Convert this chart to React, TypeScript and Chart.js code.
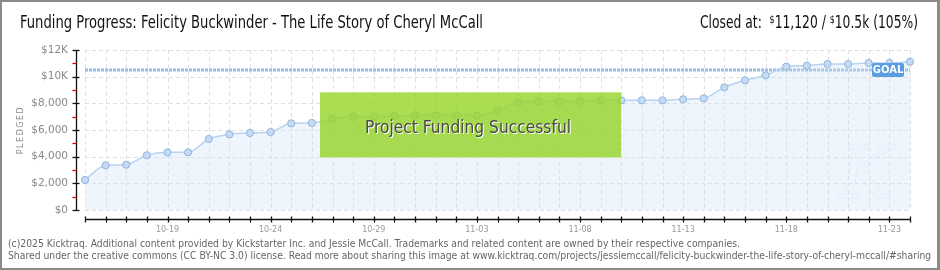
import { useEffect, useRef } from 'react';
import { Chart, registerables } from 'chart.js';

Chart.register(...registerables);

const DATES = [
  '10-15', '10-16', '10-17', '10-18', '10-19', '10-20', '10-21', '10-22', '10-23', '10-24',
  '10-25', '10-26', '10-27', '10-28', '10-29', '10-30', '10-31', '11-01', '11-02', '11-03',
  '11-04', '11-05', '11-06', '11-07', '11-08', '11-09', '11-10', '11-11', '11-12', '11-13',
  '11-14', '11-15', '11-16', '11-17', '11-18', '11-19', '11-20', '11-21', '11-22', '11-23',
  '11-24',
];

const PLEDGED = [
  2250, 3350, 3400, 4100, 4325, 4325, 5325, 5675, 5775, 5850,
  6500, 6525, 6825, 7000, 7000, 7050, 7100, 7100, 7100, 7100,
  7450, 8075, 8150, 8150, 8175, 8225, 8225, 8225, 8225, 8300,
  8375, 9200, 9725, 10100, 10750, 10825, 10950, 10950, 11025, 11025,
  11120,
];

const GOAL = 10500;
const Y_TICKS = [0, 1000, 2000, 3000, 4000, 5000, 6000, 7000, 8000, 9000, 10000, 11000, 12000];
const Y_LABELS = ['$0', '', '$2,000', '', '$4,000', '', '$6,000', '', '$8,000', '', '$10K', '', '$12K'];
const X_LABELED = ['10-19', '10-24', '10-29', '11-03', '11-08', '11-13', '11-18', '11-23'];

const TITLE = 'Funding Progress: Felicity Buckwinder - The Life Story of Cheryl McCall';
const CLOSED_PARTS = ['Closed at:  ', '$', '11,120 / ', '$', '10.5k (105%)'];
const BANNER = 'Project Funding Successful';
const FOOTER1 = '(c)2025 Kicktraq. Additional content provided by Kickstarter Inc. and Jessie McCall. Trademarks and related content are owned by their respective companies.';
const FOOTER2 = 'Shared under the creative commons (CC BY-NC 3.0) license. Read more about sharing this image at www.kicktraq.com/projects/jessiemccall/felicity-buckwinder-the-life-story-of-cheryl-mccall/#sharing';
const AXIS_TITLE = 'PLEDGED';

const COND = '"DejaVu Sans Condensed", "DejaVu Sans", sans-serif';

function fitText(ctx: CanvasRenderingContext2D, text: string, x: number, y: number, font: string, width: number, color: string) {
  ctx.save();
  ctx.font = font;
  ctx.fillStyle = color;
  ctx.textBaseline = 'alphabetic';
  ctx.textAlign = 'left';
  const w = ctx.measureText(text).width;
  ctx.translate(x, y);
  ctx.scale(width / w, 1);
  ctx.fillText(text, 0, 0);
  ctx.restore();
  return width / w;
}

const overlay = {
  id: 'overlay',
  beforeDatasetsDraw(chart: any) {
    const { ctx, scales } = chart;
    const x = scales.x, y = scales.y;
    const x0 = x.getPixelForValue(0);
    const x1 = x.getPixelForValue(DATES.length - 1);
    const yTop = y.getPixelForValue(Y_TICKS[Y_TICKS.length - 1]);
    const yBot = y.getPixelForValue(0);
    ctx.save();
    ctx.strokeStyle = '#e0e0e0';
    ctx.lineWidth = 1;
    ctx.setLineDash([4, 3]);
    DATES.forEach((_, i) => {
      const px = Math.round(x.getPixelForValue(i)) + 0.5;
      ctx.beginPath();
      ctx.moveTo(px, yTop);
      ctx.lineTo(px, yBot);
      ctx.stroke();
    });
    Y_TICKS.forEach((v, i) => {
      if (!Y_LABELS[i]) return;
      const py = Math.round(y.getPixelForValue(v)) + 0.5;
      ctx.beginPath();
      ctx.moveTo(x0, py);
      ctx.lineTo(x1, py);
      ctx.stroke();
    });
    ctx.restore();
  },
  afterDatasetsDraw(chart: any) {
    const { ctx, scales, chartArea } = chart;
    const x = scales.x, y = scales.y;
    const x0 = x.getPixelForValue(0);
    const x1 = x.getPixelForValue(DATES.length - 1);
    const yTop = y.getPixelForValue(Y_TICKS[Y_TICKS.length - 1]);
    const yBot = y.getPixelForValue(0);
    const ax = Math.round(chartArea.left) + 0.5;
    const ay = Math.round(chartArea.bottom) - 0.5;
    ctx.save();
    // axes
    ctx.strokeStyle = '#111';
    ctx.lineWidth = 1.3;
    ctx.beginPath();
    ctx.moveTo(ax, yTop);
    ctx.lineTo(ax, yBot + 1);
    ctx.stroke();
    ctx.beginPath();
    ctx.moveTo(x0, ay);
    ctx.lineTo(x1 + 1, ay);
    ctx.stroke();
    Y_TICKS.forEach((v, i) => {
      const py = Math.round(y.getPixelForValue(v)) + 0.5;
      ctx.beginPath();
      if (Y_LABELS[i]) {
        ctx.strokeStyle = '#111';
        ctx.moveTo(ax - 4, py);
        ctx.lineTo(ax + 3, py);
      } else {
        ctx.strokeStyle = '#e00000';
        ctx.moveTo(ax - 4, py);
        ctx.lineTo(ax, py);
      }
      ctx.stroke();
    });
    ctx.strokeStyle = '#111';
    DATES.forEach((_, i) => {
      const px = Math.round(x.getPixelForValue(i)) + 0.5;
      ctx.beginPath();
      ctx.moveTo(px, ay - 3);
      ctx.lineTo(px, ay + 3);
      ctx.stroke();
    });

    // goal label
    const gy = y.getPixelForValue(GOAL);
    const gx1 = x1 - 6, gx0 = gx1 - 32;
    ctx.fillStyle = '#5a9de0';
    ctx.beginPath();
    ctx.roundRect(gx0, gy - 7, gx1 - gx0, 14, 2);
    ctx.fill();
    ctx.fillStyle = '#ffffff';
    ctx.font = 'bold 10px "DejaVu Sans", sans-serif';
    ctx.textAlign = 'center';
    ctx.textBaseline = 'middle';
    ctx.fillText('GOAL', (gx0 + gx1) / 2, gy + 0.5);

    // faint watermark
    ctx.font = 'italic 72px "DejaVu Serif", serif';
    ctx.strokeStyle = 'rgba(200,212,228,0.12)';
    ctx.lineWidth = 2;
    ctx.textAlign = 'center';
    ctx.textBaseline = 'alphabetic';
    ctx.strokeText('K', 866, 198);
    ctx.textAlign = 'left';

    // banner
    const bx = 320, by = 92, bw = 301, bh = 66;
    ctx.fillStyle = 'rgba(150,212,40,0.82)';
    ctx.fillRect(bx, by, bw, bh);
    ctx.save();
    ctx.beginPath();
    ctx.rect(bx, by, bw, bh);
    ctx.clip();
    ctx.strokeStyle = 'rgba(255,255,255,0.06)';
    ctx.lineWidth = 1;
    for (let k = -bh; k < bw; k += 4) {
      ctx.beginPath();
      ctx.moveTo(bx + k, by + bh);
      ctx.lineTo(bx + k + bh, by);
      ctx.stroke();
    }
    ctx.restore();
    ctx.fillStyle = '#c6ea8a';
    ctx.fillRect(bx, by, bw, 1);
    ctx.fillStyle = '#cde6a0';
    ctx.fillRect(bx, by + bh - 1, bw, 1);
    fitText(ctx, BANNER, 366, 133.5, '18px ' + COND, 206, '#ffffff');
    fitText(ctx, BANNER, 365, 132.5, '18px ' + COND, 206, '#4a4a4a');

    // title
    fitText(ctx, TITLE, 20, 27.5, '17px ' + COND, 463, '#111');

    // closed at
    const big = '17px ' + COND;
    const small = '11px ' + COND;
    const fonts = [big, small, big, small, big];
    let total = 0;
    const widths = CLOSED_PARTS.map((t, i) => {
      ctx.font = fonts[i];
      const w = ctx.measureText(t).width;
      total += w;
      return w;
    });
    const sc = 218 / total;
    ctx.save();
    ctx.translate(700, 0);
    ctx.scale(sc, 1);
    ctx.fillStyle = '#111';
    ctx.textAlign = 'left';
    ctx.textBaseline = 'alphabetic';
    let cx = 0;
    CLOSED_PARTS.forEach((t, i) => {
      ctx.font = fonts[i];
      ctx.fillText(t, cx, fonts[i] === big ? 28 : 23);
      cx += widths[i];
    });
    ctx.restore();

    // footer
    ctx.save();
    ctx.beginPath();
    ctx.rect(0, 230, 937, 40);
    ctx.clip();
    const fs = fitText(ctx, FOOTER1, 8, 246.5, '10px ' + COND, 732, '#666');
    ctx.save();
    ctx.font = '10px ' + COND;
    ctx.textAlign = 'left';
    ctx.textBaseline = 'alphabetic';
    ctx.translate(8, 258.5);
    ctx.scale(fs, 1);
    ctx.fillStyle = '#666';
    ctx.fillText(FOOTER2, 0, 0);
    ctx.restore();
    ctx.restore();

    // axis title
    ctx.save();
    ctx.translate(23, 130);
    ctx.rotate(-Math.PI / 2);
    ctx.font = '8px "DejaVu Sans", sans-serif';
    (ctx as any).letterSpacing = '1.5px';
    ctx.fillStyle = '#888';
    ctx.textAlign = 'center';
    ctx.textBaseline = 'alphabetic';
    ctx.fillText(AXIS_TITLE, 0, 0);
    ctx.restore();

    ctx.restore();
  },
};

export default function App() {
  const ref = useRef<HTMLCanvasElement | null>(null);
  useEffect(() => {
    document.body.style.margin = '0';
    const canvas = ref.current;
    if (!canvas) return;
    const chart = new Chart(canvas, {
      type: 'line',
      data: {
        datasets: [
          {
            label: 'Pledged',
            data: PLEDGED.map((v, i) => ({ x: i, y: v })),
            borderColor: '#b7d3f1',
            borderWidth: 1.5,
            backgroundColor: 'rgba(205,225,248,0.35)',
            fill: 'origin',
            cubicInterpolationMode: 'monotone',
            pointRadius: 3.6,
            pointBackgroundColor: '#c4dbf6',
            pointBorderColor: '#93b3da',
            pointBorderWidth: 1,
            clip: false,
          } as any,
          {
            label: 'Goal',
            data: [{ x: 0, y: GOAL }, { x: DATES.length - 1, y: GOAL }],
            borderColor: '#93bce8',
            borderWidth: 3,
            borderDash: [3, 1],
            pointRadius: 0,
            fill: false,
          } as any,
        ],
      },
      options: {
        animation: false,
        responsive: true,
        maintainAspectRatio: false,
        layout: { padding: { left: 0, right: 30, top: 50, bottom: 0 } },
        plugins: { legend: { display: false }, tooltip: { enabled: false }, title: { display: false } },
        scales: {
          x: {
            type: 'linear',
            min: -0.4364,
            max: DATES.length - 1,
            grid: { display: false, drawTicks: false },
            border: { display: false },
            afterBuildTicks: (s: any) => {
              s.ticks = DATES.map((_, i) => ({ value: i }));
            },
            afterFit: (s: any) => {
              s.height = 50;
            },
            ticks: {
              autoSkip: false,
              maxRotation: 0,
              minRotation: 0,
              padding: 5,
              color: '#999',
              font: { family: '"DejaVu Sans", sans-serif', size: 8 },
              callback: (v: any) => {
                const d = DATES[Math.round(Number(v))];
                return X_LABELED.includes(d) ? d : '';
              },
            },
          },
          y: {
            min: -750,
            max: Y_TICKS[Y_TICKS.length - 1],
            grid: { display: false, drawTicks: false },
            border: { display: false },
            afterBuildTicks: (s: any) => {
              s.ticks = Y_TICKS.map((v) => ({ value: v }));
            },
            afterFit: (s: any) => {
              s.width = 76;
            },
            ticks: {
              autoSkip: false,
              padding: 8,
              color: '#888',
              font: { family: '"DejaVu Sans", sans-serif', size: 10.5 },
              callback: (v: any) => {
                const i = Y_TICKS.indexOf(Number(v));
                return i >= 0 ? Y_LABELS[i] : '';
              },
            },
          },
        },
      },
      plugins: [overlay],
    });
    return () => chart.destroy();
  }, []);
  return (
    <div style={{ position: 'relative', width: 940, height: 270, background: '#fff' }}>
      <canvas ref={ref} style={{ position: 'absolute', left: 0, top: 0, width: 940, height: 270 }} />
      <div
        style={{
          position: 'absolute',
          left: 0,
          top: 0,
          width: 940,
          height: 270,
          boxSizing: 'border-box',
          border: '2px solid #8a8a8a',
          borderRightWidth: 3,
          pointerEvents: 'none',
        }}
      />
    </div>
  );
}
